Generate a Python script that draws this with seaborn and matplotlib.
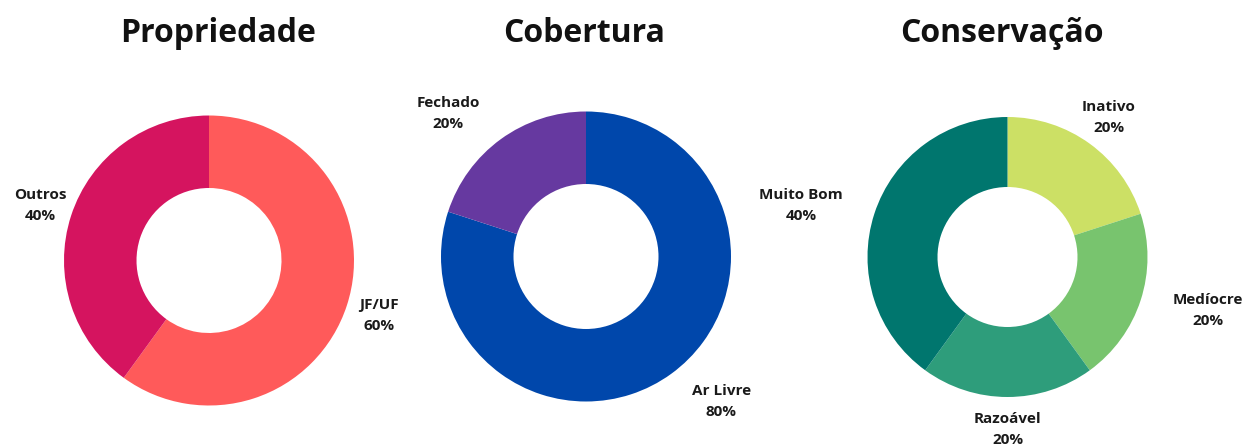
import numpy as np
import matplotlib
matplotlib.use('Agg')
import matplotlib.pyplot as plt
import seaborn as sns

# ============================================================
# DATA
# ============================================================

titles = ['Propriedade', 'Cobertura', 'Conservação']

prop_labels = ['JF/UF', 'Outros']
prop_values = [60, 40]

cob_labels = ['Ar Livre', 'Fechado']
cob_values = [80, 20]

cons_labels = ['Inativo', 'Medíocre', 'Razoável', 'Muito Bom']
cons_values = [20, 20, 20, 40]

# ============================================================
# STYLE / LAYOUT
# ============================================================

prop_colors = ['#FF5A5A', '#D5145F']
cob_colors = ['#0047AB', '#6639A0']
cons_colors = ['#CCE065', '#78C46E', '#2E9D7B', '#00766E']

# pixel layout (y up), figure is 1242 x 446
centers = [(209, 185.5), (586, 189.5), (1007.5, 189)]
radii = [145, 145, 140]
title_x = [218.5, 584, 1001.5]
title_y = 404

# label distance (in radii) and angle shift (deg) per slice
prop_lbl = [(1.23, 0), (1.22, 0)]
cob_lbl = [(1.37, 7), (1.37, 8)]
cons_lbl = [(1.23, 0), (1.48, 3), (1.23, 0), (1.52, 4)]

sns.set_theme(style='white')
plt.rcParams['font.family'] = ['Open Sans', 'DejaVu Sans']

fig = plt.figure(figsize=(12.42, 4.46), dpi=100)
ax = fig.add_axes([0, 0, 1, 1])

charts = [
    (prop_labels, prop_values, prop_colors, prop_lbl),
    (cob_labels, cob_values, cob_colors, cob_lbl),
    (cons_labels, cons_values, cons_colors, cons_lbl),
]

for i, (labels, values, colors, lbl) in enumerate(charts):
    cx, cy = centers[i]
    r = radii[i]
    total = sum(values)
    wedges, _ = ax.pie(
        values,
        colors=colors,
        startangle=90,
        counterclock=False,
        center=(cx, cy),
        radius=r,
        wedgeprops=dict(width=r * 0.5, linewidth=0),
    )
    for w, name, v, (d, shift) in zip(wedges, labels, values, lbl):
        ang = np.deg2rad((w.theta1 + w.theta2) / 2 + shift)
        ax.text(cx + d * r * np.cos(ang), cy + d * r * np.sin(ang),
                f"{name}\n{v / total * 100:.0f}%",
                ha='center', va='center', fontsize=11, fontweight='bold',
                color='#1a1a1a', linespacing=1.65)
    ax.text(title_x[i], title_y, titles[i], ha='center', va='baseline',
            fontsize=23, fontweight='bold', color='#111111')

ax.set_xlim(0, 1242)
ax.set_ylim(0, 446)
ax.set_aspect('equal')
ax.axis('off')

fig.savefig('out.png', dpi=100, facecolor='white')
